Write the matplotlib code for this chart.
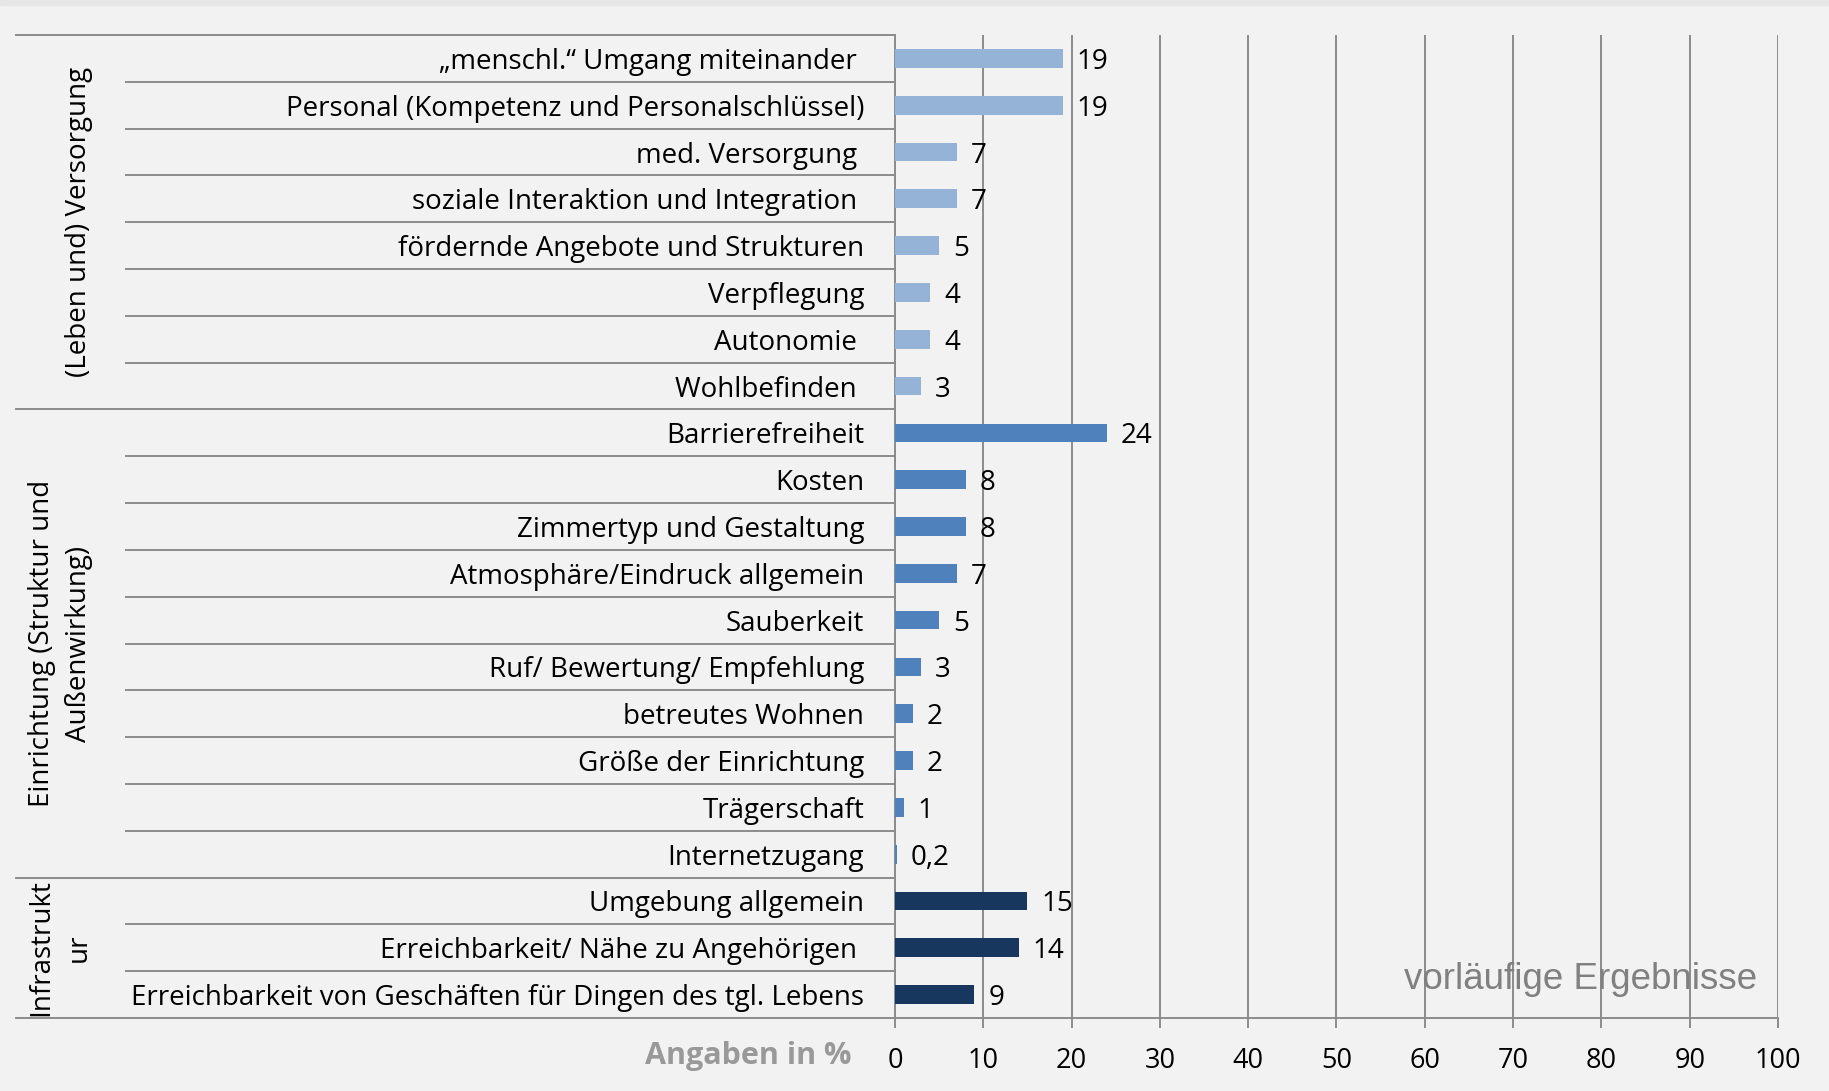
import matplotlib
matplotlib.use('Agg')
import matplotlib.pyplot as plt
from matplotlib.lines import Line2D
from matplotlib.patches import Rectangle

# items, top to bottom
categories = [
    '„menschl.“ Umgang miteinander ',
    'Personal (Kompetenz und Personalschlüssel)',
    'med. Versorgung ',
    'soziale Interaktion und Integration ',
    'fördernde Angebote und Strukturen',
    'Verpflegung',
    'Autonomie ',
    'Wohlbefinden ',
    'Barrierefreiheit',
    'Kosten',
    'Zimmertyp und Gestaltung',
    'Atmosphäre/Eindruck allgemein',
    'Sauberkeit',
    'Ruf/ Bewertung/ Empfehlung',
    'betreutes Wohnen',
    'Größe der Einrichtung',
    'Trägerschaft',
    'Internetzugang',
    'Umgebung allgemein',
    'Erreichbarkeit/ Nähe zu Angehörigen ',
    'Erreichbarkeit von Geschäften für Dingen des tgl. Lebens',
]
values = [19, 19, 7, 7, 5, 4, 4, 3,
          24, 8, 8, 7, 5, 3, 2, 2, 1, 0.2,
          15, 14, 9]
value_labels = ['19', '19', '7', '7', '5', '4', '4', '3',
                '24', '8', '8', '7', '5', '3', '2', '2', '1', '0,2',
                '15', '14', '9']

groups = ['(Leben und) Versorgung',
          'Einrichtung (Struktur und\nAußenwirkung)',
          'Infrastrukt\nur']
group_sizes = [8, 10, 3]
group_colors = ['#95B3D7', '#4F81BD', '#17375E']

x_ticks = [0, 10, 20, 30, 40, 50, 60, 70, 80, 90, 100]

bg = '#F2F2F2'
line_gray = '#8C8C8C'
plt.rcParams['font.family'] = ['Open Sans', 'DejaVu Sans']

fig = plt.figure(figsize=(18.29, 10.91), dpi=100, facecolor=bg)
fig.patches.append(Rectangle((0, 0.9955), 1, 0.0045, transform=fig.transFigure,
                             color='#E6E6E6', zorder=0))
ax = fig.add_axes([0.4893, 0.0669, 0.4828, 0.9010])
ax.set_facecolor(bg)

# colour per bar from its group
colors = []
for g, n in enumerate(group_sizes):
    colors += [group_colors[g]] * n

rows = list(range(len(categories)))
ax.barh(rows, values, height=0.4, color=colors, zorder=3)

for i, (v, lab) in enumerate(zip(values, value_labels)):
    ax.annotate(lab, (v, i), xytext=(10, -2.5), textcoords='offset points',
                ha='left', va='center', fontsize=20, color='black')

ax.set_xlim(0, 100)
ax.set_ylim(len(categories) - 0.5, -0.5)
ax.set_xticks(x_ticks)
ax.set_xticklabels([str(t) for t in x_ticks], fontsize=19.5)
ax.set_yticks(rows)
ax.set_yticklabels(categories, fontsize=20)
ax.tick_params(axis='y', length=0, pad=22)
ax.tick_params(axis='x', length=7, width=1.4, color=line_gray, pad=14)

ax.xaxis.grid(True, color=line_gray, linewidth=1.4, zorder=0)
ax.set_axisbelow(True)
for s in ['top', 'right']:
    ax.spines[s].set_visible(False)
for s in ['left', 'bottom']:
    ax.spines[s].set_color(line_gray)
    ax.spines[s].set_linewidth(1.4)

# table lines left of the axis
trans = ax.get_yaxis_transform()
bounds = [0]
for n in group_sizes:
    bounds.append(bounds[-1] + n)
for b in range(len(categories) + 1):
    x0 = -0.9955 if b in bounds else -0.871
    ax.add_line(Line2D([x0, 0], [b - 0.5, b - 0.5], transform=trans,
                       color=line_gray, linewidth=1.4, clip_on=False))

# group labels
group_x = [-0.924, -0.945, -0.946]
for g, name in enumerate(groups):
    yc = (bounds[g] + bounds[g + 1] - 1) / 2
    ax.text(group_x[g], yc, name, transform=trans, rotation=90,
            ha='center', va='center', multialignment='center',
            fontsize=20, linespacing=1.45, color='black')

ax.text(-0.049, -0.039, 'Angaben in %', transform=ax.transAxes,
        ha='right', va='center', fontsize=22, fontweight='bold', color='#999999')

ax.text(0.777, 0.039, 'vorläufige Ergebnisse', transform=ax.transAxes,
        ha='center', va='center', fontsize=26.5, color='#808080',
        family='Liberation Sans', zorder=5)

fig.savefig('out.png', dpi=100, facecolor=bg)
